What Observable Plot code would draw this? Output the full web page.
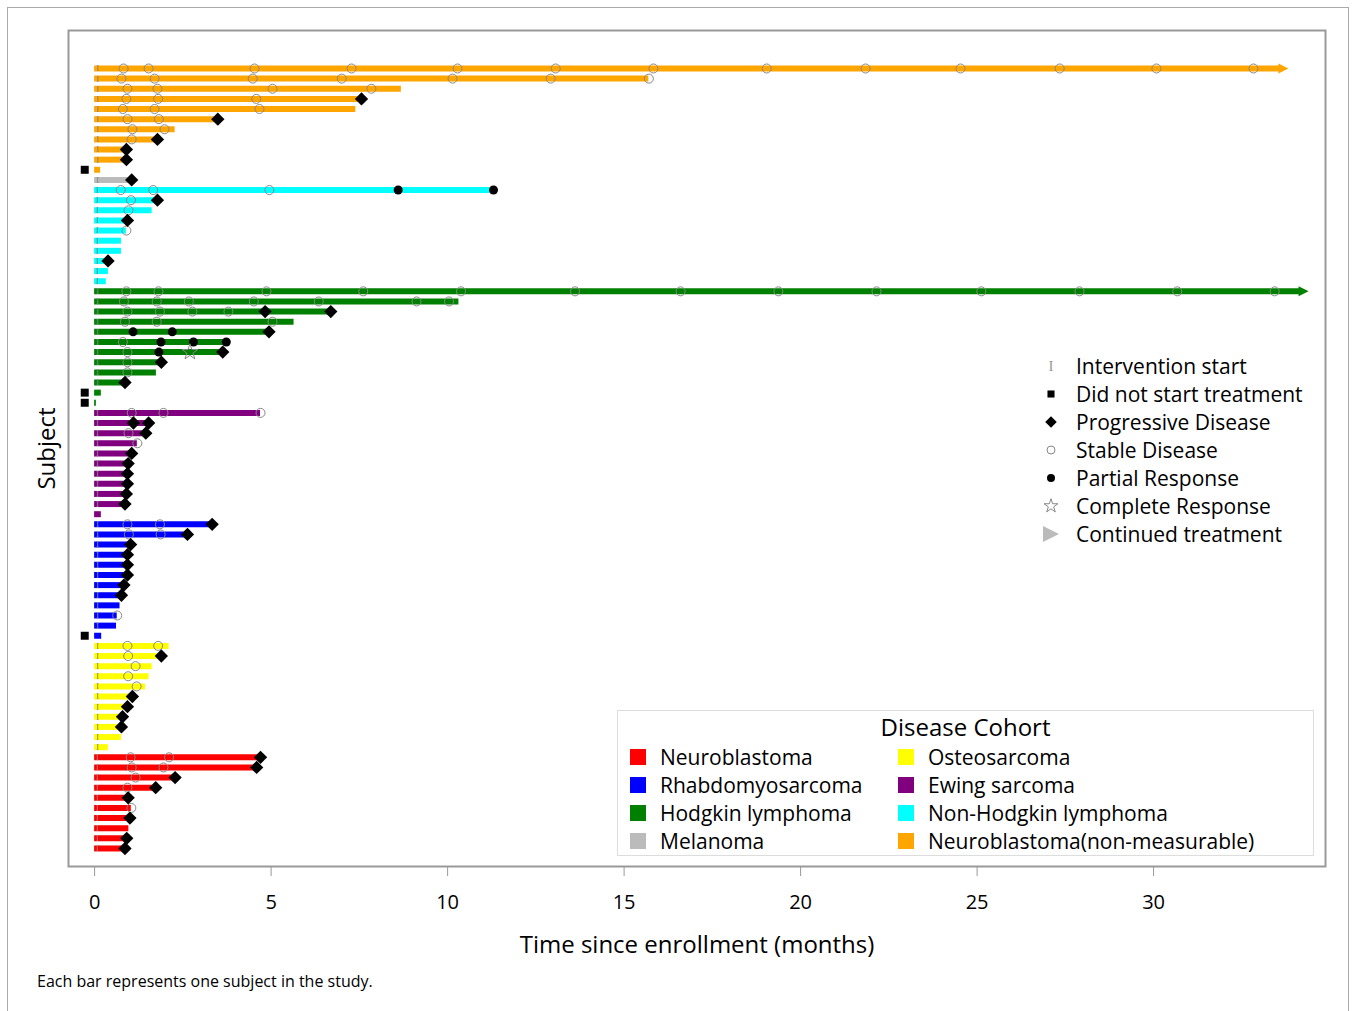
<!DOCTYPE html>
<html><head><meta charset="utf-8">
<script src="https://cdn.jsdelivr.net/npm/d3@7"></script>
<script src="https://cdn.jsdelivr.net/npm/@observablehq/plot@0.6"></script>
<style>
body{margin:0;background:#fff;font-family:"Open Sans",sans-serif;color:#000;}
#wrap{position:relative;width:1353px;height:1011px;overflow:hidden;background:#fff;}
#chart{position:absolute;left:0;top:0;}
.border{position:absolute;left:7px;top:7px;width:1340px;height:1030px;border:1.5px solid #aaa;pointer-events:none;}
.note{position:absolute;left:37px;top:972px;font-size:16px;line-height:18px;white-space:nowrap;}
.symrow{position:absolute;left:1039px;height:28px;display:flex;align-items:center;font-size:21px;white-space:nowrap;}
.symrow svg{width:24px;height:24px;margin-right:13px;}
.cbox{position:absolute;left:617px;top:710px;width:697px;height:146px;border:1px solid #ddd;box-sizing:border-box;}
.ctitle{position:absolute;left:617px;width:697px;top:712px;text-align:center;font-size:24px;line-height:30px;}
.citem{position:absolute;height:28px;display:flex;align-items:center;font-size:21px;white-space:nowrap;}
.sw{width:16px;height:16px;margin-right:14px;}
</style></head>
<body>
<div id="wrap">
  <div id="chart"></div>
  <div id="legends"></div>
  <div class="note">Each bar represents one subject in the study.</div>
  <div class="border"></div>
</div>
<script>
// ---------- data ----------
const cohorts = ["Neuroblastoma","Rhabdomyosarcoma","Hodgkin lymphoma","Melanoma","Osteosarcoma","Ewing sarcoma","Non-Hodgkin lymphoma","Neuroblastoma(non-measurable)"];
const cohortColors = ["#FF0000","#0000FF","#008000","#BBBBBB","#FFFF00","#800080","#00FFFF","#FFA500"];

// one entry per subject, top to bottom
const rowCohort = [
  "Neuroblastoma(non-measurable)","Neuroblastoma(non-measurable)","Neuroblastoma(non-measurable)","Neuroblastoma(non-measurable)",
  "Neuroblastoma(non-measurable)","Neuroblastoma(non-measurable)","Neuroblastoma(non-measurable)","Neuroblastoma(non-measurable)",
  "Neuroblastoma(non-measurable)","Neuroblastoma(non-measurable)","Neuroblastoma(non-measurable)",
  "Melanoma",
  "Non-Hodgkin lymphoma","Non-Hodgkin lymphoma","Non-Hodgkin lymphoma","Non-Hodgkin lymphoma","Non-Hodgkin lymphoma",
  "Non-Hodgkin lymphoma","Non-Hodgkin lymphoma","Non-Hodgkin lymphoma","Non-Hodgkin lymphoma","Non-Hodgkin lymphoma",
  "Hodgkin lymphoma","Hodgkin lymphoma","Hodgkin lymphoma","Hodgkin lymphoma","Hodgkin lymphoma","Hodgkin lymphoma",
  "Hodgkin lymphoma","Hodgkin lymphoma","Hodgkin lymphoma","Hodgkin lymphoma","Hodgkin lymphoma","Hodgkin lymphoma",
  "Ewing sarcoma","Ewing sarcoma","Ewing sarcoma","Ewing sarcoma","Ewing sarcoma","Ewing sarcoma",
  "Ewing sarcoma","Ewing sarcoma","Ewing sarcoma","Ewing sarcoma","Ewing sarcoma",
  "Rhabdomyosarcoma","Rhabdomyosarcoma","Rhabdomyosarcoma","Rhabdomyosarcoma","Rhabdomyosarcoma","Rhabdomyosarcoma",
  "Rhabdomyosarcoma","Rhabdomyosarcoma","Rhabdomyosarcoma","Rhabdomyosarcoma","Rhabdomyosarcoma","Rhabdomyosarcoma",
  "Osteosarcoma","Osteosarcoma","Osteosarcoma","Osteosarcoma","Osteosarcoma","Osteosarcoma",
  "Osteosarcoma","Osteosarcoma","Osteosarcoma","Osteosarcoma","Osteosarcoma",
  "Neuroblastoma","Neuroblastoma","Neuroblastoma","Neuroblastoma","Neuroblastoma",
  "Neuroblastoma","Neuroblastoma","Neuroblastoma","Neuroblastoma","Neuroblastoma"
];
// months on study (bar end)
const rowEnd = [
  33.65,15.7,8.69,7.56,7.40,3.49,2.28,1.78,0.90,0.90,0.17,
  1.05,
  11.30,1.78,1.63,0.93,0.90,0.76,0.76,0.33,0.39,0.33,
  34.22,10.32,6.69,5.65,4.94,3.73,3.63,1.89,1.75,0.86,0.19,0.05,
  4.70,1.53,1.45,1.21,1.05,0.95,0.93,0.93,0.90,0.86,0.19,
  3.33,2.63,1.02,0.93,0.93,0.93,0.83,0.76,0.72,0.64,0.62,0.20,
  2.11,1.89,1.63,1.54,1.44,1.07,0.93,0.79,0.76,0.76,0.39,
  4.70,4.59,2.28,1.73,0.95,1.04,1.00,0.97,0.91,0.86
];
const continuedRows = [0, 22];
const didNotStartRows = [10, 32, 33, 56];
const noStartMarkRows = [10, 32, 33, 44, 56];

// [row, month]
const stableDisease = [
  [0,0.82],[0,1.53],[0,4.53],[0,7.28],[0,10.28],[0,13.06],[0,15.83],[0,19.04],[0,21.84],[0,24.53],[0,27.34],[0,30.08],[0,32.83],
  [1,0.76],[1,1.70],[1,4.48],[1,7.0],[1,10.14],[1,12.92],[1,15.7],
  [2,0.93],[2,1.78],[2,5.04],[2,7.84],
  [3,0.90],[3,1.80],[3,4.58],
  [4,0.80],[4,1.70],[4,4.67],
  [5,0.93],[5,1.82],
  [6,1.07],[6,1.98],
  [7,1.05],
  [12,0.74],[12,1.66],[12,4.95],
  [13,1.03],[14,0.96],[16,0.90],
  [22,0.90],[22,1.81],[22,4.87],[22,7.61],[22,10.38],[22,13.61],[22,16.6],[22,19.37],[22,22.15],[22,25.12],[22,27.9],[22,30.67],[22,33.43],
  [23,0.83],[23,1.76],[23,2.67],[23,4.51],[23,6.35],[23,9.12],[23,10.04],
  [24,0.93],[24,1.85],[24,2.77],[24,3.79],
  [25,0.86],[25,1.76],[25,5.04],
  [27,0.80],[28,0.93],[29,0.93],[30,0.93],
  [34,1.05],[34,1.95],[34,4.70],
  [36,0.96],[37,1.21],
  [45,0.93],[45,1.85],[46,0.97],[46,1.87],[54,0.64],
  [57,0.93],[57,1.80],[58,0.95],[59,1.16],[60,0.95],[61,1.19],
  [68,1.02],[68,2.11],[69,1.05],[69,1.95],[70,1.16],[71,0.93],[73,1.04]
];
const progressiveDisease = [
  [3,7.56],[5,3.49],[7,1.78],[8,0.90],[9,0.90],
  [11,1.05],
  [13,1.78],[15,0.93],[19,0.38],
  [24,4.83],[24,6.69],[26,4.94],[28,3.63],[29,1.89],[31,0.86],
  [35,1.10],[35,1.53],[36,1.45],[38,1.05],[39,0.95],[40,0.93],[41,0.93],[42,0.90],[43,0.86],
  [45,3.33],[46,2.63],[47,1.02],[48,0.93],[49,0.93],[50,0.93],[51,0.83],[52,0.76],
  [58,1.89],[62,1.07],[63,0.93],[64,0.79],[65,0.76],
  [68,4.70],[69,4.59],[70,2.28],[71,1.73],[72,0.95],[74,1.00],[76,0.91],[77,0.86]
];
const partialResponse = [
  [12,8.60],[12,11.30],
  [26,1.09],[26,2.20],
  [27,1.88],[27,2.80],[27,3.73],
  [28,1.82]
];
const completeResponse = [[28,2.70]];

const xTicks = [0,5,10,15,20,25,30];
const dnsX = -0.28;      // position of "did not start" marker
const startX = 0.08;     // position of intervention start marker

// ---------- build ----------
const rows = rowEnd.map((end, i) => ({i, end, cohort: rowCohort[i]}));
const ev = a => a.map(([row, t]) => ({row, t}));

const arrowRight = {
  draw(context, size) {
    const r = Math.sqrt(size / Math.PI);
    context.moveTo(r * 1.2, 0);
    context.lineTo(-r * 0.8, -r);
    context.lineTo(-r * 0.8, r);
    context.closePath();
  }
};

const plot = Plot.plot({
  width: 1353, height: 960,
  marginLeft: 68, marginRight: 28, marginTop: 30, marginBottom: 94,
  style: {fontFamily: "'Open Sans', sans-serif", fontSize: "20px", background: "transparent", color: "black"},
  x: {domain: [-0.74, 34.87]},
  y: {domain: [-3.75, 78.78], reverse: true, axis: null},
  color: {domain: cohorts, range: cohortColors},
  marks: [
    Plot.frame({stroke: "#999", strokeWidth: 2}),
    Plot.axisX({ticks: xTicks, tickSize: 10, tickPadding: 18, stroke: "#999", fill: "black", label: null, tickFormat: d => String(d)}),
    Plot.text(["Time since enrollment (months)"], {text: d => d, frameAnchor: "bottom", dy: 86, fontSize: 24}),
    Plot.text(["Subject"], {text: d => d, frameAnchor: "left", textAnchor: "middle", dx: -21, rotate: -90, fontSize: 24}),
    Plot.ruleY(rows, {y: "i", x1: 0, x2: "end", stroke: "cohort", strokeWidth: 6}),
    Plot.text(rows.filter(d => !noStartMarkRows.includes(d.i)), {x: startX, y: "i", text: () => "I", fontFamily: "Liberation Serif", fontSize: 9, fill: "#888"}),
    Plot.dot(ev(stableDisease), {x: "t", y: "row", r: 4.5, stroke: "#888", strokeWidth: 1, fill: "none"}),
    Plot.dot(ev(partialResponse), {x: "t", y: "row", r: 4.5, fill: "black"}),
    Plot.dot(ev(completeResponse), {x: "t", y: "row", r: 5, symbol: "star", stroke: "#888", strokeWidth: 1, fill: "none"}),
    Plot.dot(ev(progressiveDisease), {x: "t", y: "row", r: 6, symbol: "diamond2", fill: "black"}),
    Plot.dot(rows.filter(d => didNotStartRows.includes(d.i)), {x: dnsX, y: "i", r: 4.5, symbol: "square", fill: "black"}),
    Plot.dot(rows.filter(d => continuedRows.includes(d.i)), {x: "end", y: "i", r: 5, symbol: arrowRight, fill: "cohort"})
  ]
});
document.getElementById("chart").appendChild(plot);

// ---------- legends ----------
const leg = document.getElementById("legends");
const sym = (type, size) => d3.symbol().type(type).size(size)();
const symbolItems = [
  {label: "Intervention start", svg: `<text x="12" y="17" text-anchor="middle" font-family="Liberation Serif" font-size="15" fill="#999">I</text>`},
  {label: "Did not start treatment", svg: `<path transform="translate(12,12)" d="${sym(d3.symbolSquare, 50)}" fill="black"/>`},
  {label: "Progressive Disease", svg: `<path transform="translate(12,12)" d="${sym(d3.symbolDiamond2, 85)}" fill="black"/>`},
  {label: "Stable Disease", svg: `<circle cx="12" cy="12" r="4" fill="none" stroke="#888"/>`},
  {label: "Partial Response", svg: `<circle cx="12" cy="12" r="4" fill="black"/>`},
  {label: "Complete Response", svg: `<path transform="translate(12,12)" d="${sym(d3.symbolStar, 60)}" fill="none" stroke="#888"/>`},
  {label: "Continued treatment", svg: `<path d="M4,4 L20,12 L4,20 Z" fill="#bbb"/>`}
];
symbolItems.forEach((d, k) => {
  const el = document.createElement("div");
  el.className = "symrow";
  el.style.top = (366 + 28 * k - 14) + "px";
  el.innerHTML = `<svg viewBox="0 0 24 24">${d.svg}</svg><span>${d.label}</span>`;
  leg.appendChild(el);
});

const box = document.createElement("div"); box.className = "cbox"; leg.appendChild(box);
const ttl = document.createElement("div"); ttl.className = "ctitle"; ttl.textContent = "Disease Cohort"; leg.appendChild(ttl);
const legendOrder = [
  ["Neuroblastoma", 0, 0], ["Rhabdomyosarcoma", 0, 1], ["Hodgkin lymphoma", 0, 2], ["Melanoma", 0, 3],
  ["Osteosarcoma", 1, 0], ["Ewing sarcoma", 1, 1], ["Non-Hodgkin lymphoma", 1, 2], ["Neuroblastoma(non-measurable)", 1, 3]
];
legendOrder.forEach(([name, col, r]) => {
  const el = document.createElement("div");
  el.className = "citem";
  el.style.left = (col ? 898 : 630) + "px";
  el.style.top = (757 + 28 * r - 14) + "px";
  el.innerHTML = `<div class="sw" style="background:${cohortColors[cohorts.indexOf(name)]}"></div><span>${name}</span>`;
  leg.appendChild(el);
});
</script>
</body></html>
